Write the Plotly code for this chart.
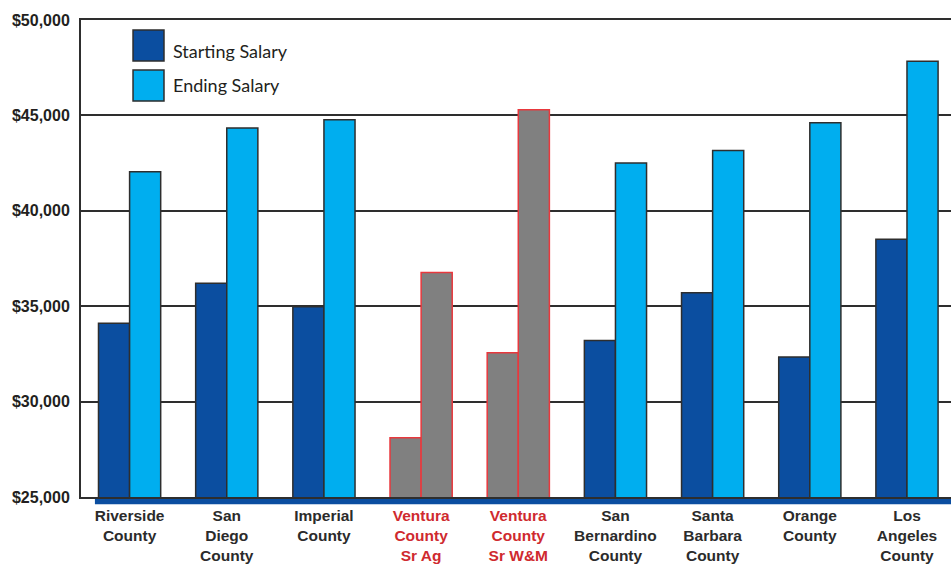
import plotly.graph_objects as go

# Salary data by county (US dollars)
counties = [
    "Riverside County", "San Diego County", "Imperial County",
    "Ventura County Sr Ag", "Ventura County Sr W&M", "San Bernardino County",
    "Santa Barbara County", "Orange County", "Los Angeles County",
]
county_labels = [
    "Riverside<br>County", "San<br>Diego<br>County", "Imperial<br>County",
    "Ventura<br>County<br>Sr Ag", "Ventura<br>County<br>Sr W&M", "San<br>Bernardino<br>County",
    "Santa<br>Barbara<br>County", "Orange<br>County", "Los<br>Angeles<br>County",
]
starting_salary = [34100, 36200, 34970, 28100, 32560, 33200, 35700, 32340, 38510]
ending_salary = [42050, 44340, 44770, 36760, 45300, 42500, 43160, 44620, 47840]
highlighted = ["Ventura County Sr Ag", "Ventura County Sr W&M"]
y_ticks = [25000, 30000, 35000, 40000, 45000, 50000]
y_tick_labels = ["$25,000", "$30,000", "$35,000", "$40,000", "$45,000", "$50,000"]

START_BLUE = "#0b4ea0"
END_BLUE = "#00aeef"
HL_FILL = "#808080"
HL_LINE = "#e8383d"
HL_TEXT = "#cf2a2f"
EDGE = "#2e2e2e"
INK = "#231f20"


def fills(base):
    return [HL_FILL if c in highlighted else base for c in counties]


def edges():
    return [HL_LINE if c in highlighted else EDGE for c in counties]


def tick_text(name, label):
    if name in highlighted:
        return f'<span style="color:{HL_TEXT}">{label}</span>'
    return label


fig = go.Figure()
fig.add_trace(go.Bar(
    name="Starting Salary", x=counties, y=starting_salary,
    marker=dict(color=fills(START_BLUE), line=dict(color=edges(), width=1.5)),
))
fig.add_trace(go.Bar(
    name="Ending Salary", x=counties, y=ending_salary,
    marker=dict(color=fills(END_BLUE), line=dict(color=edges(), width=1.5)),
))

fig.update_layout(
    width=951, height=565,
    margin=dict(l=81, r=0, t=20, b=68, autoexpand=False),
    paper_bgcolor="white", plot_bgcolor="white",
    barmode="group", bargap=0.36, bargroupgap=0,
    showlegend=False,
    font=dict(family="Liberation Sans, Arial, sans-serif", color=INK),
)

fig.update_xaxes(
    type="category", range=[-0.5, 8.453], automargin=False,
    tickvals=counties,
    ticktext=[tick_text(c, l) for c, l in zip(counties, county_labels)],
    tickfont=dict(size=15.5, weight="bold", color="#2b2b2b"),
    showline=True, linecolor=EDGE, linewidth=2, mirror=True,
    showgrid=False, ticks="", ticklabelstandoff=3,
)
fig.update_yaxes(
    range=[25000, 50000], tickvals=y_ticks, ticktext=y_tick_labels, automargin=False,
    tickfont=dict(size=16, weight="bold", color=INK),
    showline=True, linecolor=EDGE, linewidth=2,
    showgrid=True, gridcolor=EDGE, gridwidth=2,
    zeroline=False, ticks="", ticklabelstandoff=6,
)

# Blue base band beneath the category axis
fig.add_shape(type="rect", xref="paper", yref="paper",
              x0=0.016, x1=1.0, y0=-0.015, y1=-0.002,
              fillcolor=START_BLUE, line=dict(width=0), layer="below")

# Legend swatches and labels
legend_items = [("Starting Salary", START_BLUE, 0.979, 0.914, 0.935),
                ("Ending Salary", END_BLUE, 0.895, 0.830, 0.864)]
for label, color, top, bottom, text_y in legend_items:
    fig.add_shape(type="rect", xref="paper", yref="paper",
                  x0=0.0598, x1=0.0954, y0=bottom, y1=top,
                  fillcolor=color, line=dict(color=EDGE, width=1.5))
    fig.add_annotation(xref="paper", yref="paper", x=0.104, y=text_y,
                       text=label, showarrow=False, xanchor="left", yanchor="middle",
                       font=dict(family="Lato, Open Sans, sans-serif", size=18, color=INK))

fig.write_html("out.html")
